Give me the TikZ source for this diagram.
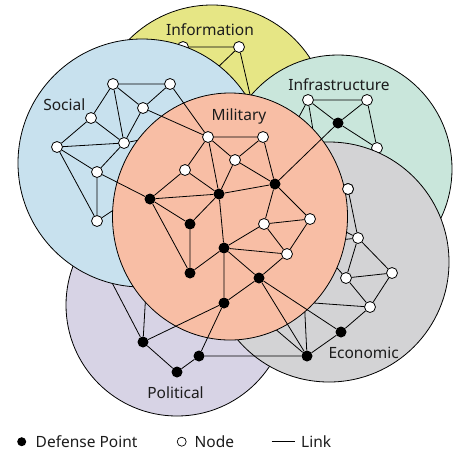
\documentclass[tikz,border=0pt]{standalone}
\usepackage{fontspec}
\setmainfont{Noto Sans}
\definecolor{infoc}{HTML}{E6E685}
\definecolor{infrac}{HTML}{C9E6DB}
\definecolor{polc}{HTML}{D7D3E5}
\definecolor{socc}{HTML}{C8E1EE}
\definecolor{econc}{HTML}{D3D3D5}
\definecolor{milc}{HTML}{F8BEA5}
\definecolor{txt}{HTML}{1C1C1C}
\tikzset{
  zonecircle/.style={draw=black, line width=0.8pt},
  link/.style={draw=black, line width=0.8pt},
  wnode/.style={circle, draw=black, fill=white, line width=0.8pt, inner sep=0pt, minimum size=11pt},
  bnode/.style={circle, fill=black, inner sep=0pt, minimum size=11pt},
  lbl/.style={text=txt, font=\fontsize{15.5}{18}\selectfont, inner sep=0pt, anchor=base},
}
\begin{document}
\begin{tikzpicture}[x=1pt, y=-1pt]
\useasboundingbox (0,0) rectangle (457,451);

% ---------- Information ----------
\fill[infoc, zonecircle] (212,122) circle (117);
\node[lbl] (tinfo) at (210,35) {Information};
\coordinate (ih) at (251,99);
\node[wnode] (i1) at (183,47) {};
\node[wnode] (i2) at (239,47) {};
\node[wnode] (i3) at (215,70) {};
\draw[link] (i1) -- (i2) (i2) -- (i3) (i2) -- (ih) (i3) -- (ih);

% ---------- Infrastructure ----------
\fill[infrac, zonecircle] (338,169) circle (114);
\node[lbl] (tinfra) at (339,90.7) {Infrastructure};
\coordinate (fha) at (292,130);
\coordinate (fhb) at (316,148);
\node[wnode] (f1) at (308,100) {};
\node[wnode] (f2) at (367,100) {};
\node[bnode] (f3) at (338,123) {};
\node[wnode] (f4) at (377,148) {};
\draw[link] (f1) -- (f2) (f1) -- (f3) (f2) -- (f3) (f2) -- (f4) (f3) -- (f4)
            (f1) -- (fha) (f1) -- (fhb);

% ---------- Political ----------
\fill[polc, zonecircle] (177,305) circle (111);
\node[lbl] (tpol) at (175.5,398.3) {Political};
\coordinate (pha) at (108,275);
\coordinate (phb) at (146,290);
\node[bnode] (p1) at (143,342) {};
\node[bnode] (p2) at (177,372) {};
\node[bnode] (p3) at (199,356) {};
\draw[link] (p1) -- (p2) (p2) -- (p3) (p1) -- (pha) (p1) -- (phb);

% ---------- Social ----------
\fill[socc, zonecircle] (142,163) circle (124);
\node[lbl] (tsoc) at (64.3,110.7) {Social};
\coordinate (sha) at (160,136);
\coordinate (shb) at (130,199);
\node[wnode] (s1) at (113,84) {};
\node[wnode] (s2) at (170,84) {};
\node[wnode] (s3) at (143,108) {};
\node[wnode] (s4) at (91,118) {};
\node[wnode] (s5) at (57,147) {};
\node[wnode] (s6) at (124,143) {};
\node[wnode] (s7) at (97,172) {};
\node[wnode] (s8) at (97,221) {};
\draw[link] (s1) -- (s2) (s1) -- (s3) (s2) -- (s3) (s1) -- (s4) (s1) -- (s6)
            (s4) -- (s6) (s4) -- (s5) (s5) -- (s6) (s3) -- (s6) (s6) -- (s7)
            (s5) -- (s7) (s5) -- (s8) (s7) -- (s8) (s6) -- (sha) (s8) -- (shb);

% ---------- Economic ----------
\fill[econc, zonecircle] (329,262) circle (120);
\node[lbl] (tecon) at (363.7,358.3) {Economic};
\coordinate (eha) at (330,224);
\coordinate (ehb) at (330,241);
\coordinate (ehc) at (330,260);
\coordinate (ehd) at (300,302);
\coordinate (ehe) at (304,295);
\coordinate (ehf) at (267,322);
\node[wnode] (e1) at (348,189) {};
\node[wnode] (e2) at (358,238) {};
\node[wnode] (e3) at (392,273) {};
\node[wnode] (e4) at (346,278) {};
\node[wnode] (e5) at (370,307) {};
\node[bnode] (e6) at (341,332) {};
\node[bnode] (e7) at (307,356) {};
\draw[link] (e1) -- (e2) (e2) -- (e3) (e2) -- (e4) (e4) -- (e3) (e4) -- (e5)
            (e3) -- (e5) (e5) -- (e6) (e6) -- (e7)
            (e2) -- (eha) (e2) -- (ehb) (e4) -- (ehc) (e5) -- (ehd)
            (e7) -- (ehe) (e7) -- (ehf);

% ---------- Military ----------
\fill[milc, zonecircle] (230,216.5) ellipse [x radius=117.5, y radius=123.5];
\node[lbl] (tmil) at (239,120.7) {Military};
\node[wnode] (m1) at (208,137) {};
\node[wnode] (m2) at (263,137) {};
\node[wnode] (m3) at (235,160) {};
\node[wnode] (m4) at (185,170) {};
\node[bnode] (m5) at (275,184) {};
\node[bnode] (m6) at (219,194) {};
\node[bnode] (m7) at (150,199) {};
\node[bnode] (m8) at (190,224) {};
\node[wnode] (m9) at (264,224) {};
\node[wnode] (m10) at (310,219) {};
\node[bnode] (m11) at (224,248) {};
\node[wnode] (m12) at (287,254) {};
\node[bnode] (m13) at (190,273) {};
\node[bnode] (m14) at (259,278) {};
\node[bnode] (m15) at (224,303) {};
\draw[link] (m1) -- (m2) (m1) -- (m3) (m3) -- (m2) (m2) -- (m5) (m3) -- (m5)
            (m1) -- (m4) (m1) -- (m6) (m3) -- (m6) (m4) -- (m6) (m4) -- (m7)
            (m7) -- (m6) (m6) -- (m5) (m7) -- (m8) (m7) -- (m13) (m6) -- (m8)
            (m8) -- (m13) (m13) -- (m11) (m6) -- (m11) (m5) -- (m9) (m5) -- (m10)
            (m9) -- (m10) (m9) -- (m11) (m9) -- (m12) (m10) -- (m12) (m11) -- (m12)
            (m11) -- (m14) (m12) -- (m14) (m11) -- (m15) (m15) -- (m14);

% ---------- links between domains ----------
\draw[link] (s2) -- (m1) (s3) -- (m1) (s7) -- (m7) (f3) -- (m5)
            (m14) -- (e6) (m14) -- (e7) (m15) -- (p1) (m15) -- (p3) (p3) -- (e7);
\node[wnode] at (e1) {};

% ---------- legend ----------
\node[bnode, minimum size=9pt] (kdef) at (21.7,441.7) {};
\node[lbl, anchor=base west] (tdef) at (35.5,447.5) {Defense Point};
\node[wnode, minimum size=9pt, line width=0.7pt] (knode) at (181.7,441.7) {};
\node[lbl, anchor=base west] (tnode) at (194.5,447.5) {Node};
\coordinate (kl1) at (271.7,441.7);
\coordinate (kl2) at (295,441.7);
\draw[link] (kl1) -- (kl2);
\node[lbl, anchor=base west] (tlink) at (301,447.5) {Link};
\end{tikzpicture}
\end{document}
